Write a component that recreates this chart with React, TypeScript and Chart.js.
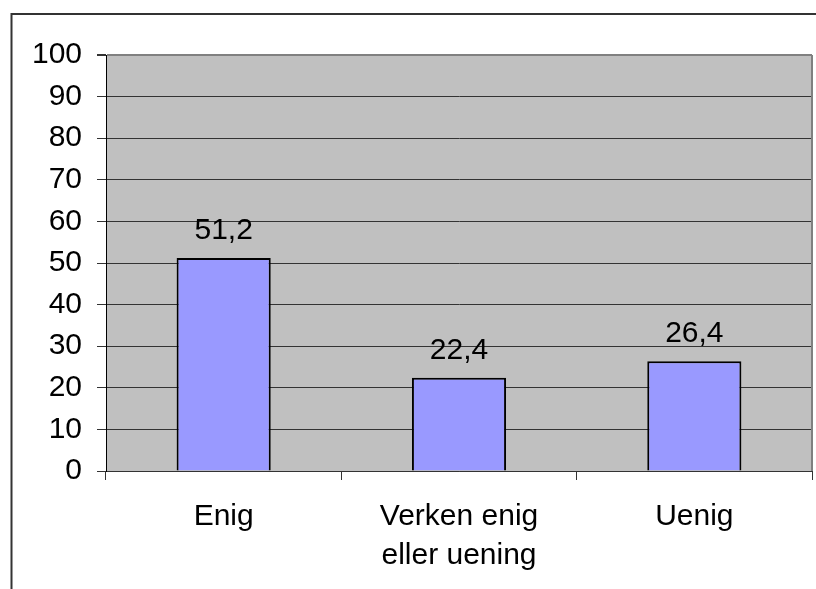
import React, { useEffect, useRef } from "react";
import { Chart, registerables } from "chart.js";

Chart.register(...registerables);

const categories: (string | string[])[] = ["Enig", ["Verken enig", "eller uening"], "Uenig"];
const values: number[] = [51.2, 22.4, 26.4];
const yTicks = { min: 0, max: 100, step: 10 };

const FONT = "'Liberation Sans', Arial, sans-serif";

const decorPlugin = {
  id: "decor",
  beforeDraw(chart: any) {
    const { ctx, chartArea } = chart;
    ctx.save();
    ctx.fillStyle = "#ffffff";
    ctx.fillRect(0, 0, chart.width, chart.height);
    ctx.fillStyle = "#c0c0c0";
    ctx.fillRect(chartArea.left, chartArea.top, chartArea.right - chartArea.left, chartArea.bottom - chartArea.top);
    // outer border
    ctx.strokeStyle = "#333333";
    ctx.lineWidth = 2;
    ctx.strokeRect(11.5, 14, 2000, 2000);
    ctx.restore();
  },
  afterDatasetsDraw(chart: any) {
    const { ctx, chartArea } = chart;
    ctx.save();
    // right plot border
    ctx.strokeStyle = "#808080";
    ctx.lineWidth = 2;
    ctx.beginPath();
    ctx.moveTo(chartArea.right, chartArea.top);
    ctx.lineTo(chartArea.right, chartArea.bottom);
    ctx.stroke();
    // value labels
    const meta = chart.getDatasetMeta(0);
    ctx.fillStyle = "#000000";
    ctx.font = `30px ${FONT}`;
    ctx.textAlign = "center";
    ctx.textBaseline = "alphabetic";
    meta.data.forEach((bar: any, i: number) => {
      const txt = values[i].toFixed(1).replace(".", ",");
      ctx.fillText(txt, bar.x, bar.y - 19);
    });
    ctx.restore();
  },
};

export default function App() {
  const ref = useRef<HTMLCanvasElement>(null);
  useEffect(() => {
    if (!ref.current) return;
    const chart = new Chart(ref.current, {
      type: "bar",
      data: {
        labels: categories,
        datasets: [
          {
            data: values,
            backgroundColor: "#9999ff",
            borderColor: "#000000",
            borderWidth: 2,
            barPercentage: 0.4,
            categoryPercentage: 1,
          },
        ],
      },
      options: {
        responsive: false,
        animation: false,
        layout: { padding: { top: 55, right: 4, bottom: 0, left: 0 } },
        plugins: { legend: { display: false }, tooltip: { enabled: false } },
        scales: {
          x: {
            afterFit: (s: any) => {
              s.height = 118;
            },
            grid: {
              offset: true,
              drawOnChartArea: false,
              drawTicks: true,
              tickLength: 9,
              color: "#333333",
              tickColor: "#333333",
            },
            border: { display: true, color: "#333333", width: 1 },
            ticks: {
              color: "#000000",
              padding: 17,
              maxRotation: 0,
              autoSkip: false,
              font: { family: FONT, size: 30, lineHeight: 1.3 },
            },
          },
          y: {
            min: yTicks.min,
            max: yTicks.max,
            afterFit: (s: any) => {
              s.width = 106;
            },
            grid: {
              color: (c: any) => (c.tick && c.tick.value === yTicks.max ? "#808080" : "#333333"),
              lineWidth: (c: any) => (c.tick && c.tick.value === yTicks.max ? 2 : 1),
              tickColor: "#333333",
              tickLength: 9,
              drawTicks: true,
            },
            border: { display: true, color: "#000000", width: 1 },
            ticks: {
              stepSize: yTicks.step,
              color: "#000000",
              padding: 15,
              font: { family: FONT, size: 30 },
            },
          },
        },
      },
      plugins: [decorPlugin],
    });
    return () => chart.destroy();
  }, []);
  return (
    <div style={{ position: "fixed", left: 0, top: 0, width: 816, height: 589 }}>
      <canvas ref={ref} width={816} height={589} style={{ display: "block" }} />
    </div>
  );
}
